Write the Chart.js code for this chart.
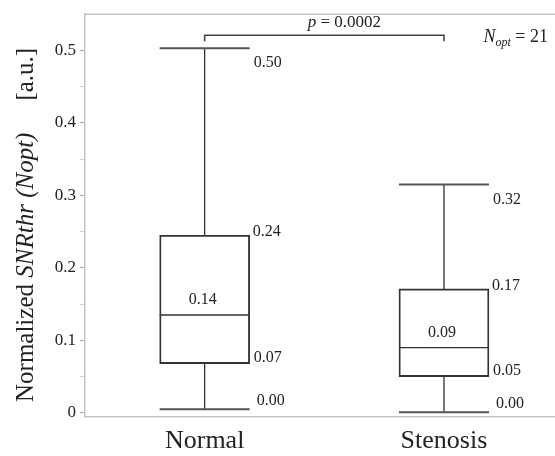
<!DOCTYPE html>
<html lang="en">

<head>
    <meta charset="UTF-8">
    <title>Normalized SNRthr (Nopt) - Normal vs Stenosis</title>
    <script src="https://cdn.jsdelivr.net/npm/chart.js"></script>
    <style>
        html, body {
            margin: 0;
            padding: 0;
            background: #fff;
        }
        #boxChart {
            display: block;
        }
    </style>
</head>

<body>
    <canvas id="boxChart" width="555" height="456"></canvas>

    <script>
        // box plot statistics
        const groups = ['Normal', 'Stenosis'];
        const groupPos = [1, 2];
        const whiskerMin = [0.005, 0.001];
        const q1 = [0.068, 0.050];
        const median = [0.135, 0.090];
        const q3 = [0.245, 0.171];
        const whiskerMax = [0.503, 0.315];

        // printed value labels
        const maxLabels = ['0.50', '0.32'];
        const q3Labels = ['0.24', '0.17'];
        const medianLabels = ['0.14', '0.09'];
        const q1Labels = ['0.07', '0.05'];
        const minLabels = ['0.00', '0.00'];

        const yTicks = [0, 0.05, 0.1, 0.15, 0.2, 0.25, 0.3, 0.35, 0.4, 0.45, 0.5];
        const yTickLabels = ['0', '', '0.1', '', '0.2', '', '0.3', '', '0.4', '', '0.5'];

        const pValue = '0.0002';
        const nOpt = 21;

        const serif = '"Liberation Serif", "Times New Roman", serif';
        const ink = '#222';
        const lineColor = '#333';
        const frameColor = '#c4c4c4';

        function font(size, italic) {
            return (italic ? 'italic ' : '') + size + 'px ' + serif;
        }

        // draw a row of text pieces with mixed styles, returns total width
        function drawRuns(ctx, runs, x, y, align) {
            let total = 0;
            runs.forEach(r => {
                ctx.font = font(r.size, r.italic);
                r.w = ctx.measureText(r.text).width;
                total += r.w + (r.gap || 0);
            });
            let cx = x;
            if (align === 'center') cx = x - total / 2;
            if (align === 'right') cx = x - total;
            runs.forEach(r => {
                cx += r.gap || 0;
                ctx.font = font(r.size, r.italic);
                ctx.fillText(r.text, cx, y + (r.dy || 0));
                cx += r.w;
            });
            return total;
        }

        const boxDecor = {
            id: 'boxDecor',
            afterDatasetsDraw(chart) {
                const ctx = chart.ctx;
                const xs = chart.scales.x;
                const ys = chart.scales.y;
                const area = chart.chartArea;
                const meta = chart.getDatasetMeta(0);

                ctx.save();
                // top frame line
                ctx.strokeStyle = frameColor;
                ctx.lineWidth = 1.5;
                ctx.beginPath();
                ctx.moveTo(area.left, area.top);
                ctx.lineTo(area.right, area.top);
                ctx.stroke();

                groups.forEach((g, i) => {
                    const xc = xs.getPixelForValue(groupPos[i]);
                    const half = meta.data[i].width / 2;
                    const yMin = ys.getPixelForValue(whiskerMin[i]);
                    const yQ1 = ys.getPixelForValue(q1[i]);
                    const yMed = ys.getPixelForValue(median[i]);
                    const yQ3 = ys.getPixelForValue(q3[i]);
                    const yMax = ys.getPixelForValue(whiskerMax[i]);

                    // whiskers
                    ctx.strokeStyle = lineColor;
                    ctx.lineWidth = 1.3;
                    ctx.beginPath();
                    ctx.moveTo(xc, yQ3);
                    ctx.lineTo(xc, yMax);
                    ctx.moveTo(xc, yQ1);
                    ctx.lineTo(xc, yMin);
                    // median
                    ctx.moveTo(xc - half, yMed);
                    ctx.lineTo(xc + half, yMed);
                    ctx.stroke();

                    // caps
                    ctx.strokeStyle = '#555';
                    ctx.lineWidth = 2;
                    ctx.beginPath();
                    ctx.moveTo(xc - half, yMax);
                    ctx.lineTo(xc + half, yMax);
                    ctx.moveTo(xc - half, yMin);
                    ctx.lineTo(xc + half, yMin);
                    ctx.stroke();

                    // value labels
                    ctx.fillStyle = ink;
                    ctx.font = font(16);
                    ctx.textBaseline = 'middle';
                    ctx.textAlign = 'left';
                    const xr = xc + half;
                    ctx.fillText(maxLabels[i], xr + 4, yMax + 15);
                    ctx.fillText(q3Labels[i], xr + 3, yQ3 - 3);
                    ctx.fillText(q1Labels[i], xr + 4, yQ1 - 6);
                    ctx.fillText(minLabels[i], xr + 7, yMin - 8);
                    ctx.textAlign = 'center';
                    ctx.fillText(medianLabels[i], xc - 2, yMed - 15);
                });

                // significance bracket
                const x0 = xs.getPixelForValue(groupPos[0]);
                const x1 = xs.getPixelForValue(groupPos[1]);
                const yb = ys.getPixelForValue(0.521);
                ctx.strokeStyle = '#444';
                ctx.lineWidth = 1.6;
                ctx.beginPath();
                ctx.moveTo(x0, yb + 6);
                ctx.lineTo(x0, yb);
                ctx.lineTo(x1, yb);
                ctx.lineTo(x1, yb + 6);
                ctx.stroke();

                ctx.fillStyle = ink;
                ctx.textAlign = 'left';
                ctx.textBaseline = 'alphabetic';
                drawRuns(ctx, [
                    { text: 'p', size: 17, italic: true },
                    { text: ' = ' + pValue, size: 17 }
                ], (x0 + x1) / 2 + 20, yb - 8, 'center');

                drawRuns(ctx, [
                    { text: 'N', size: 18, italic: true },
                    { text: 'opt', size: 12, italic: true, dy: 4 },
                    { text: ' = ' + nOpt, size: 18 }
                ], area.right - 7, 42, 'right');

                // y axis title, rotated
                ctx.translate(33, 402);
                ctx.rotate(-Math.PI / 2);
                drawRuns(ctx, [
                    { text: 'Normalized ', size: 25 },
                    { text: 'SNR', size: 25, italic: true },
                    { text: 'thr', size: 25, italic: true },
                    { text: ' (Nopt)', size: 25, italic: true },
                    { text: '[a.u.]', size: 25, gap: 32 }
                ], 0, 0, 'left');
                ctx.restore();
            }
        };

        const ctx = document.getElementById('boxChart').getContext('2d');
        const chart = new Chart(ctx, {
            type: 'bar',
            data: {
                datasets: [{
                    label: 'IQR',
                    data: groupPos.map((x, i) => ({ x: x, y: [q1[i], q3[i]] })),
                    backgroundColor: 'rgba(255, 255, 255, 0)',
                    borderColor: lineColor,
                    borderWidth: 1.2,
                    borderSkipped: false,
                    barThickness: 90
                }]
            },
            options: {
                responsive: false,
                animation: false,
                layout: {
                    padding: { top: 11, right: 0, bottom: 0, left: 0 }
                },
                scales: {
                    x: {
                        type: 'linear',
                        offset: false,
                        min: 0.5,
                        max: 2.464,
                        afterBuildTicks: s => { s.ticks = groupPos.map(v => ({ value: v })); },
                        afterFit: s => { s.height = 39.5; },
                        ticks: {
                            callback: v => groups[groupPos.indexOf(v)],
                            font: { family: serif, size: 26 },
                            color: ink,
                            padding: 9,
                            maxRotation: 0,
                            autoSkip: false
                        },
                        grid: { drawOnChartArea: false, drawTicks: false, offset: false },
                        border: { color: frameColor, width: 1.5 }
                    },
                    y: {
                        min: -0.005,
                        max: 0.55,
                        afterBuildTicks: s => { s.ticks = yTicks.map(v => ({ value: v })); },
                        afterFit: s => { s.width = 85; },
                        ticks: {
                            callback: (v, i) => yTickLabels[i],
                            font: { family: serif, size: 17 },
                            color: ink,
                            padding: 4,
                            autoSkip: false
                        },
                        grid: {
                            drawOnChartArea: false,
                            tickLength: 5,
                            tickColor: c => (yTickLabels[c.index] ? '#b0b0b0' : '#d0d0d0'),
                            tickWidth: 1.2
                        },
                        border: { color: frameColor, width: 1.5 }
                    }
                },
                plugins: {
                    legend: { display: false },
                    tooltip: { enabled: false }
                }
            },
            plugins: [boxDecor]
        });
    </script>
</body>

</html>
